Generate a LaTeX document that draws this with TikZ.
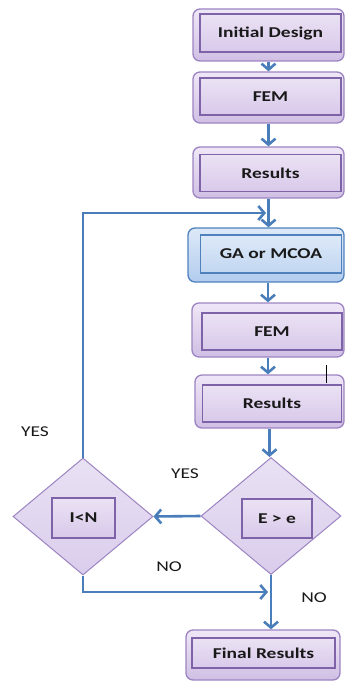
\documentclass[tikz,border=0pt]{standalone}
\usepackage{fontspec}
\setmainfont{Carlito}[FakeStretch=1.3]
\usetikzlibrary{shapes.geometric,arrows.meta}
\definecolor{boxtop}{HTML}{EFE7F7}
\definecolor{boxbot}{HTML}{D0BFE4}
\definecolor{boxline}{HTML}{9C84C2}
\definecolor{intop}{HTML}{EBE2F4}
\definecolor{inbot}{HTML}{D8C9EA}
\definecolor{inline}{HTML}{7F63A8}
\definecolor{gatop}{HTML}{DDE9F8}
\definecolor{gabot}{HTML}{B2CCEE}
\definecolor{galine}{HTML}{4F81BD}
\definecolor{flowblue}{HTML}{4A7EBB}
\definecolor{decfill}{HTML}{DACDEC}

\begin{document}
\begin{tikzpicture}[x=1pt,y=1pt]
\tikzstyle{every node}+=[inner sep=0pt, text=black!90, font=\fontsize{15}{18}\selectfont]
\tikzstyle{outerbox}=[draw=boxline, line width=1.3pt, rounded corners=7pt, top color=boxtop, bottom color=boxbot]
\tikzstyle{innerbox}=[draw=inline, line width=1.1pt, top color=intop, bottom color=inbot, font=\fontsize{15}{18}\selectfont\bfseries]
\tikzstyle{gaouter}=[draw=galine, line width=1.3pt, rounded corners=7pt, top color=gatop, bottom color=gabot]
\tikzstyle{gainner}=[draw=galine, line width=1.1pt, top color=gatop, bottom color=gabot!80!white, font=\fontsize{15}{18}\selectfont\bfseries]
\tikzstyle{decision}=[diamond, draw=boxline, line width=1pt, top color=decfill!60!white, bottom color=decfill, minimum width=140pt, minimum height=117pt]
\tikzstyle{flow}=[draw=flowblue, line width=2.6pt, -{Straight Barb[length=6pt,width=14pt]}]
\useasboundingbox (0,0) rectangle (345,-682);
\node [outerbox, minimum width=151pt, minimum height=52pt] (init) at (268.5,-35) {};
\node [innerbox, minimum width=141pt, minimum height=38pt] (initin) at (270.5,-33) {Initial Design};
\node [outerbox, minimum width=151pt, minimum height=51pt] (fem1) at (268.5,-97.5) {};
\node [innerbox, minimum width=141pt, minimum height=37pt] (fem1in) at (270.5,-96.5) {FEM};
\node [outerbox, minimum width=151pt, minimum height=51pt] (res1) at (268.5,-172.5) {};
\node [innerbox, minimum width=141pt, minimum height=37pt] (res1in) at (270.5,-173) {Results};
\node [gaouter, minimum width=156pt, minimum height=54pt] (ga) at (266,-255) {};
\node [gainner, minimum width=141pt, minimum height=38pt] (gain) at (271,-254) {GA or MCOA};
\node [outerbox, minimum width=152pt, minimum height=54pt] (fem2) at (268,-330) {};
\node [innerbox, minimum width=140pt, minimum height=37pt] (fem2in) at (272,-331.5) {FEM};
\node [outerbox, minimum width=149pt, minimum height=53pt] (res2) at (269.5,-401.5) {};
\node [innerbox, minimum width=139pt, minimum height=37pt] (res2in) at (272,-403.5) {Results};
\node [decision] (dE) at (271,-516) {};
\node [innerbox, minimum width=70pt, minimum height=39pt] (dEin) at (277,-518.5) {E > e};
\node [decision] (dI) at (83,-516.5) {};
\node [innerbox, minimum width=63pt, minimum height=40pt] (dIin) at (83.5,-518) {I<N};
\node [outerbox, minimum width=154pt, minimum height=50pt] (final) at (263,-655) {};
\node [innerbox, minimum width=143pt, minimum height=30pt] (finalin) at (263.5,-653) {Final Results};
\coordinate (loopin) at (266,-213);
\coordinate (noin) at (268,-592);
\node (yesI) at (35,-432) {YES};
\node (yesE) at (185,-474) {YES};
\node (noI) at (169,-567) {NO};
\node (noE) at (314,-598) {NO};
\draw [flow] (init.south) -- (fem1.north);
\draw [flow] (fem1.south) -- (res1.north);
\draw [flow] (res1.south) -- (res1.south |- ga.north);
\draw [flow] (fem2.north |- ga.south) -- (fem2.north);
\draw [flow] (fem2.south) -- (fem2.south |- res2.north);
\draw [flow] (res2.south) -- (res2.south |- dE.north);
\draw [flow] (dE.west) -- (dI.east);
\draw [flow] (dI.north) |- (loopin);
\draw [flow] (dI.south) |- (noin);
\draw [flow] (dE.south) -- (dE.south |- final.north);
\draw [black, line width=1pt] (326,-365) -- (326,-383);
\end{tikzpicture}
\end{document}
